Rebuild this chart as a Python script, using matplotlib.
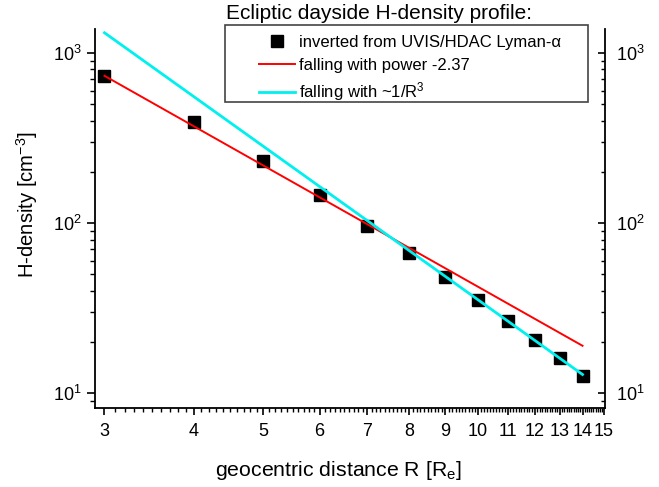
import matplotlib
matplotlib.use("Agg")
import matplotlib.pyplot as plt
import numpy as np
from matplotlib.ticker import FixedLocator, MultipleLocator, NullFormatter, FixedFormatter
from matplotlib.lines import Line2D
from matplotlib.patches import Rectangle

plt.rcParams["font.family"] = ["Liberation Sans", "DejaVu Sans"]
plt.rcParams["mathtext.fontset"] = "custom"
plt.rcParams["mathtext.rm"] = "Liberation Sans"
plt.rcParams["mathtext.it"] = "Liberation Sans"

# geocentric distance in Earth radii and measured H-density
r_obs = [3, 4, 5, 6, 7, 8, 9, 10, 11, 12, 13, 14]
n_obs = [730, 390, 232, 146, 96, 66.5, 48.5, 35.2, 26.5, 20.5, 16.1, 12.6]

# fitted profiles
power_coef = 9.9e3
power_index = -2.37
cube_coef = 3.54e4
r_fit = [3, 14]

x_ticks = list(range(3, 16))
y_ticks = [10, 100, 1000]
y_labels = [r"$\mathregular{10^{1}}$", r"$\mathregular{10^{2}}$", r"$\mathregular{10^{3}}$"]

fig = plt.figure(figsize=(6.59, 4.87), dpi=100)
ax = fig.add_axes([0.1442, 0.1622, 0.7738, 0.7783])

rf = np.array(r_fit, dtype=float)
ax.plot(r_obs, n_obs, "s", color="black", markersize=8.5, zorder=2)
ax.plot(rf, power_coef * rf ** power_index, color="red", lw=1.4, zorder=3)
ax.plot(rf, cube_coef / rf ** 3, color="#00f0f0", lw=2.0, zorder=3)

ax.set_xscale("log")
ax.set_yscale("log")
ax.set_xlim(2.91, 15.05)
ax.set_ylim(8.2, 1380)

ax.xaxis.set_major_locator(FixedLocator(x_ticks))
ax.xaxis.set_major_formatter(FixedFormatter([str(t) for t in x_ticks]))
ax.xaxis.set_minor_locator(MultipleLocator(0.1))
ax.xaxis.set_minor_formatter(NullFormatter())
ax.yaxis.set_major_locator(FixedLocator(y_ticks))
ax.yaxis.set_major_formatter(FixedFormatter(y_labels))

for side in ["top", "right"]:
    ax.spines[side].set_visible(False)
for side in ["left", "bottom"]:
    ax.spines[side].set_linewidth(1.3)

ax.tick_params(axis="x", which="major", direction="out", length=5, width=1.2, labelsize=13, pad=6)
ax.tick_params(axis="x", which="minor", direction="out", length=3, width=1.0)
ax.tick_params(axis="y", which="major", direction="out", length=6, width=1.2, labelsize=13)
ax.tick_params(axis="y", which="minor", direction="out", length=3.5, width=1.0)

# mirrored right axis with inward ticks
ax2 = ax.twinx()
ax2.set_yscale("log")
ax2.set_ylim(ax.get_ylim())
ax2.yaxis.set_major_locator(FixedLocator(y_ticks))
ax2.yaxis.set_major_formatter(FixedFormatter(y_labels))
for side in ["top", "left", "bottom"]:
    ax2.spines[side].set_visible(False)
ax2.spines["right"].set_linewidth(1.3)
ax2.tick_params(axis="y", which="major", direction="in", length=5, width=1.2, labelsize=13, pad=8)
ax2.tick_params(axis="y", which="minor", direction="in", length=3, width=1.0)

ax.set_xlabel(r"geocentric distance R [R$_{\mathregular{e}}$]", fontsize=15.3)
ax.xaxis.set_label_coords(0.477, -0.135)
ax.set_ylabel(r"H-density [cm$^{\mathregular{-3}}$]", fontsize=14.6)
ax.yaxis.set_label_coords(-0.108, 0.538)

fig.text(0.343, 0.973, "Ecliptic dayside H-density profile:", fontsize=15, ha="left", va="center")

# legend box
fig.patches.append(Rectangle((0.3414, 0.7906), 0.5508, 0.1581, transform=fig.transFigure,
                             fill=False, edgecolor="#444444", lw=1.2))
handles = [
    Line2D([], [], ls="none", marker="s", color="black", markersize=8.5),
    Line2D([], [], color="red", lw=1.4),
    Line2D([], [], color="#00f0f0", lw=2.0),
]
labels = [
    "inverted from UVIS/HDAC Lyman-\u03b1",
    "falling with power -2.37",
    r"falling with ~1/R$^{\mathregular{3}}$",
]
fig.legend(handles, labels, loc="upper left", bbox_to_anchor=(0.3926, 0.928),
           frameon=False, fontsize=12, handlelength=2.2, handletextpad=0.2,
           labelspacing=0.45, borderpad=0, borderaxespad=0)

fig.savefig("out.png", dpi=100)
